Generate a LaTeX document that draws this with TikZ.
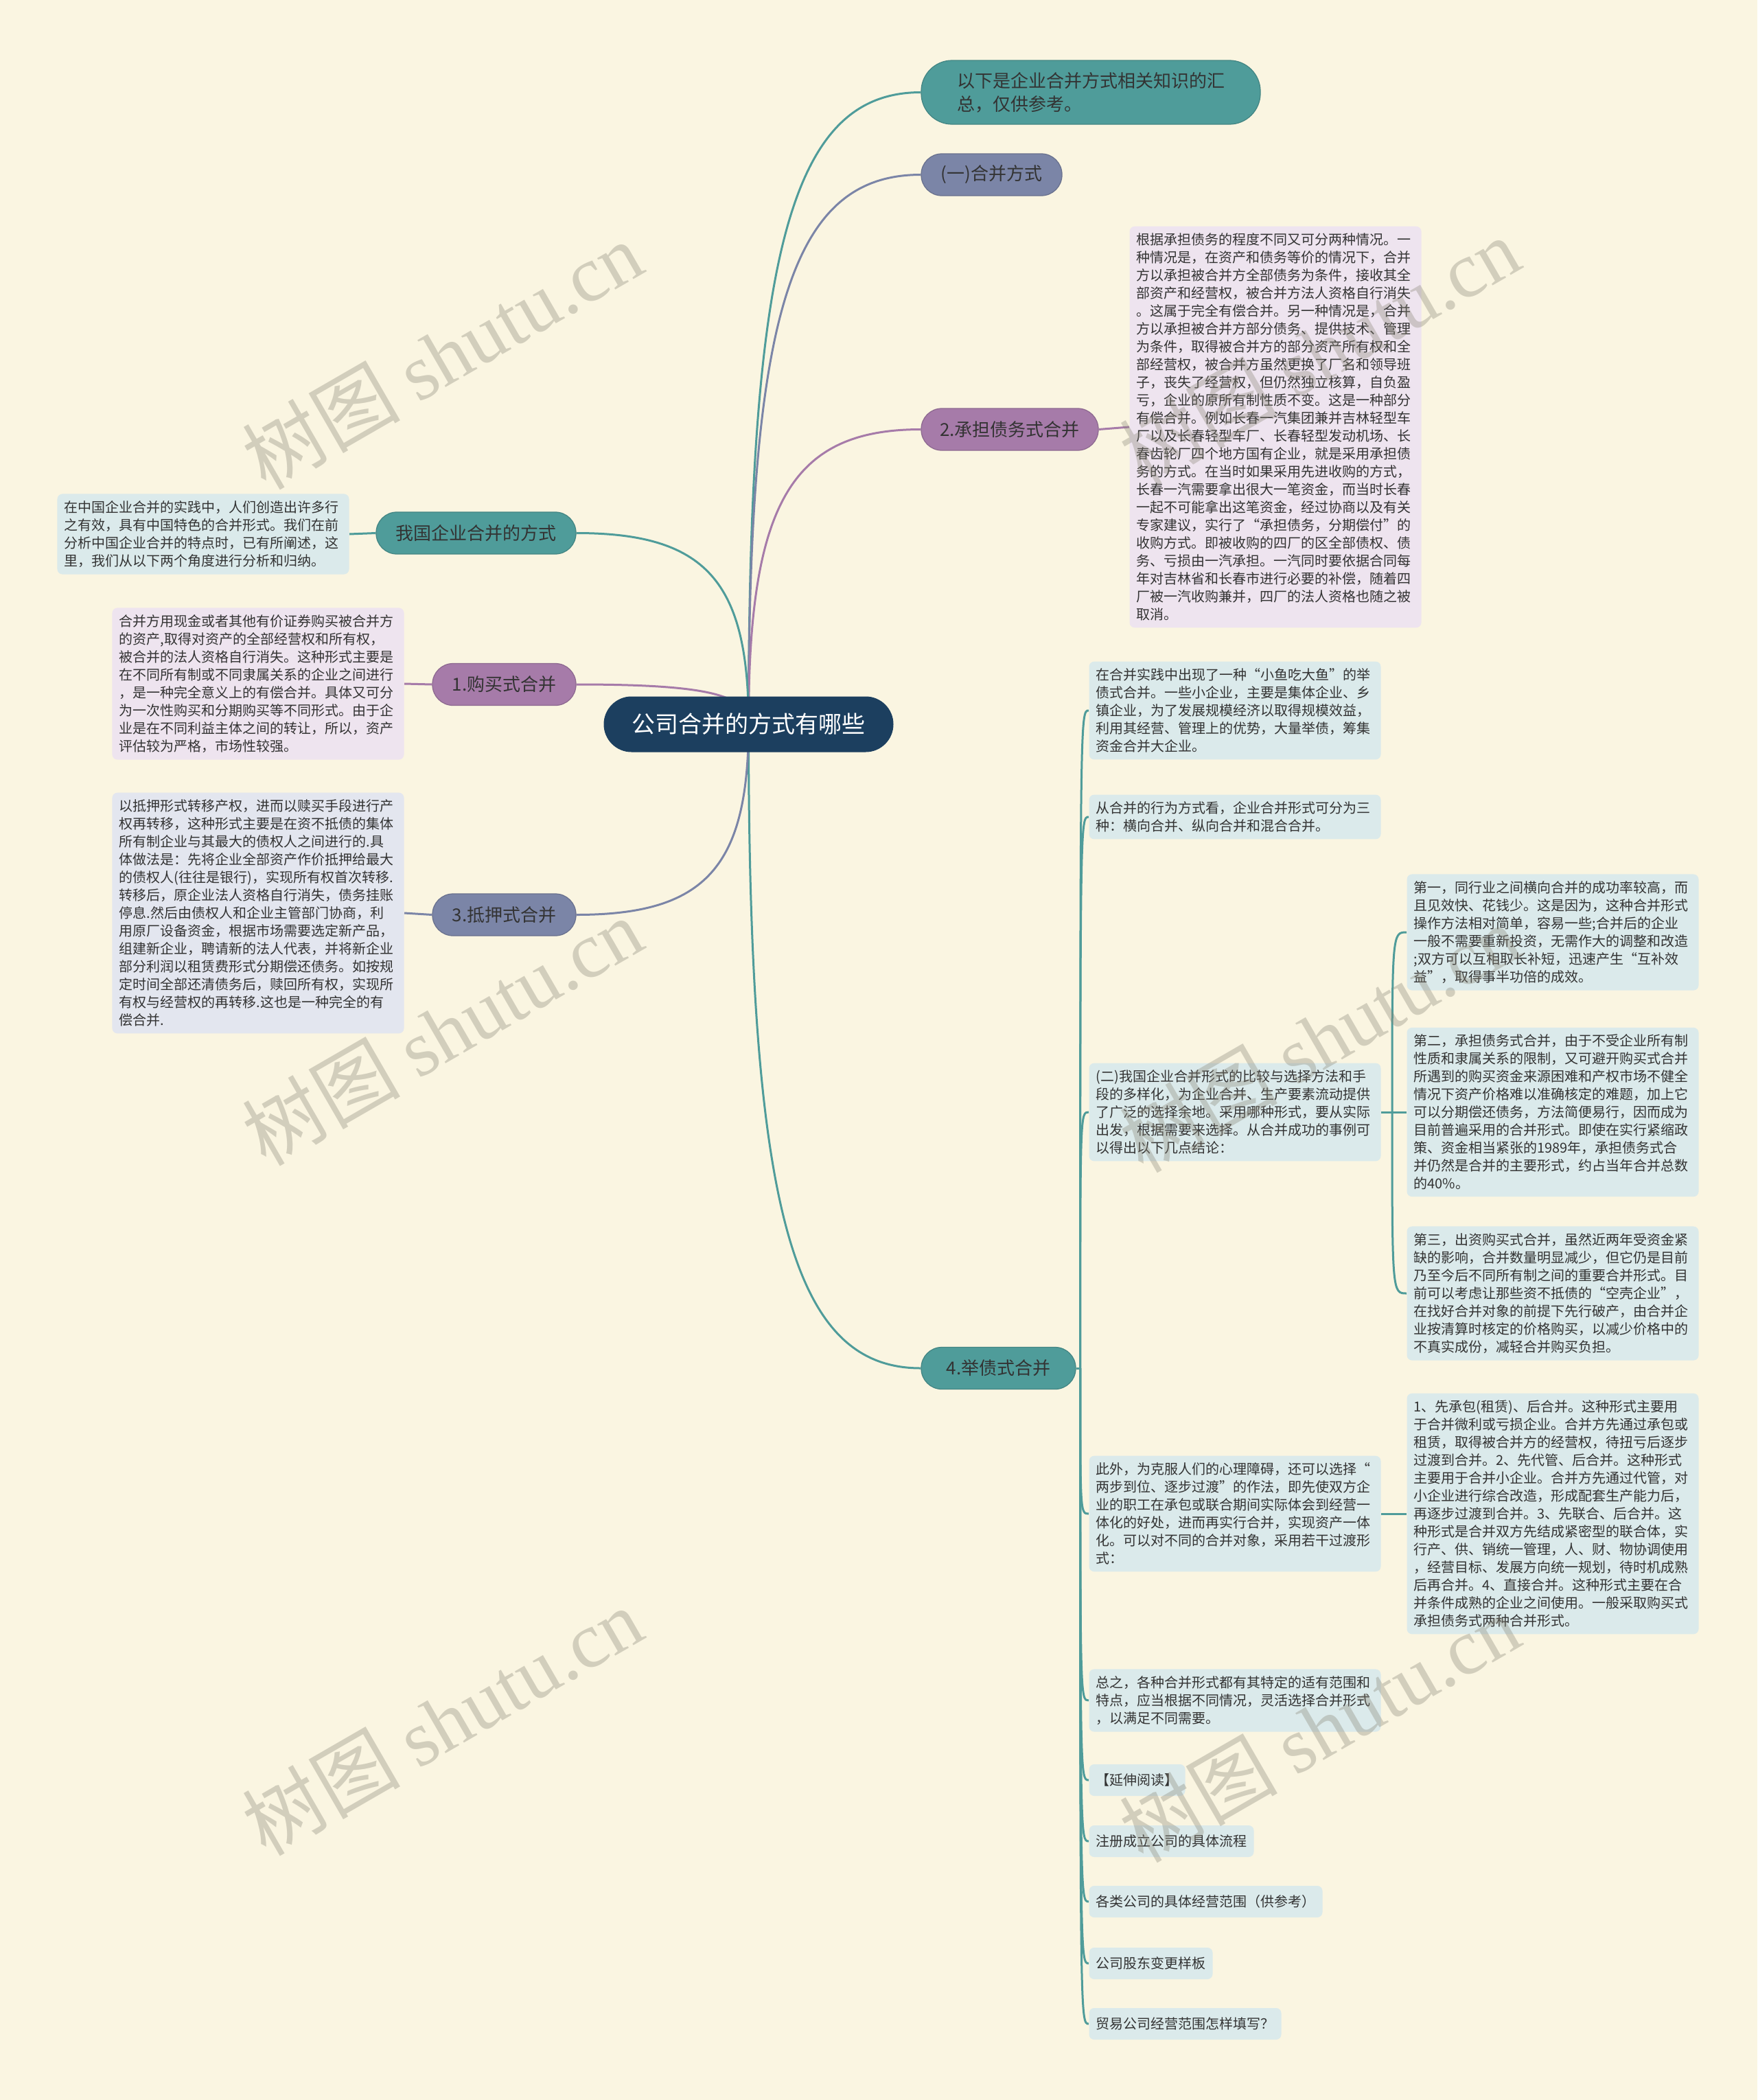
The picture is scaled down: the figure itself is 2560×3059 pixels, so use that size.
\documentclass[tikz,border=0pt]{standalone}
\usepackage{fontspec}
\setmainfont{Noto Sans CJK SC}
\newfontfamily\wmserif{Liberation Serif}
\usetikzlibrary{calc}
\definecolor{bgc}{HTML}{FAF5E1}
\definecolor{cteal}{HTML}{4F9C9A}
\definecolor{cslate}{HTML}{7B85A7}
\definecolor{cpurp}{HTML}{A67BA9}
\definecolor{cnavy}{HTML}{1C3F5F}
\definecolor{txtc}{HTML}{333333}
\definecolor{boxpurp}{HTML}{EEE4EF}
\definecolor{boxteal}{HTML}{DBEAEB}
\definecolor{boxslate}{HTML}{E3E6EF}
\definecolor{wmc}{HTML}{8A8677}
\pgfdeclarelayer{back}\pgfdeclarelayer{lines}\pgfdeclarelayer{front}
\pgfsetlayers{back,lines,main,front}
\tikzset{
 pill/.style={rounded corners=12pt, inner sep=0pt, align=center, text=txtc, minimum height=24.4pt, font=\fontsize{10.4}{13.5}\selectfont},
 box/.style={rounded corners=3pt, inner xsep=4pt, inner ysep=4pt, text width=162pt, align=left, text=txtc, font=\fontsize{8}{10.4}\selectfont},
 leaf/.style={rounded corners=3pt, inner xsep=4pt, inner ysep=4pt, minimum height=18.4pt, text=txtc, fill=boxteal, anchor=west, font=\fontsize{8}{10.4}\selectfont},
 conn/.style={line width=1.2pt},
 wm/.style={rotate=30, text=wmc, opacity=0.35, font=\fontsize{46}{50}\selectfont},
}
\newcommand\rootlink[2]{\draw[conn,#1] (root.center) .. controls ($(root.center)!0.75!(root.center |- #2)$) and ($(root.center |- #2)!0.25!(#2)$) .. (#2);}
\newcommand\hooklink[2]{\draw[conn,cteal] (#1) .. controls (#1 |- #2) .. (#2);}
\begin{document}
\begin{tikzpicture}[x=0.4pt,y=-0.4pt]
\begin{pgfonlayer}{back}
\fill[bgc] (0,0) rectangle (2560,3059);
\end{pgfonlayer}
\useasboundingbox (0,0) rectangle (2560,3059);

% root
\node[pill, fill=cnavy, draw=cnavy, text=white, minimum width=168.4pt, minimum height=32pt, rounded corners=16pt, font=\fontsize{13.6}{16}\selectfont] (root) at (1090.5,1055) {公司合并的方式有哪些};

% right first level
\node[pill, fill=cteal, draw=cteal!85!black, line width=0.5pt, minimum width=197.6pt, minimum height=37.2pt, rounded corners=18pt, text width=156pt, align=left] (n1) at (1589,134.5) {以下是企业合并方式相关知识的汇\\总，仅供参考。};
\node[pill, fill=cslate, draw=cslate!85!black, line width=0.5pt, minimum width=82pt] (n2) at (1444.5,254.5) {(一)合并方式};
\node[pill, fill=cpurp, draw=cpurp!85!black, line width=0.5pt, minimum width=103.2pt] (n3) at (1471,625.5) {2.承担债务式合并};
\node[pill, fill=cteal, draw=cteal!85!black, line width=0.5pt, minimum width=90pt] (n4) at (1454.5,1993) {4.举债式合并};

% left first level
\node[pill, fill=cteal, draw=cteal!85!black, line width=0.5pt, minimum width=116.4pt] (l1) at (693.5,776.5) {我国企业合并的方式};
\node[pill, fill=cpurp, draw=cpurp!85!black, line width=0.5pt, minimum width=83.6pt] (l2) at (734.5,997) {1.购买式合并};
\node[pill, fill=cslate, draw=cslate!85!black, line width=0.5pt, minimum width=83.6pt] (l3) at (734.5,1332.5) {3.抵押式合并};

% text boxes
\node[box, fill=boxpurp, anchor=west] (n3t) at (1645,622) {根据承担债务的程度不同又可分两种情况。一\\种情况是，在资产和债务等价的情况下，合并\\方以承担被合并方全部债务为条件，接收其全\\部资产和经营权，被合并方法人资格自行消失\\。这属于完全有偿合并。另一种情况是，合并\\方以承担被合并方部分债务、提供技术、管理\\为条件，取得被合并方的部分资产所有权和全\\部经营权，被合并方虽然更换了厂名和领导班\\子，丧失了经营权，但仍然独立核算，自负盈\\亏，企业的原所有制性质不变。这是一种部分\\有偿合并。例如长春一汽集团兼并吉林轻型车\\厂以及长春轻型车厂、长春轻型发动机场、长\\春齿轮厂四个地方国有企业，就是采用承担债\\务的方式。在当时如果采用先进收购的方式，\\长春一汽需要拿出很大一笔资金，而当时长春\\一起不可能拿出这笔资金，经过协商以及有关\\专家建议，实行了“承担债务，分期偿付”的\\收购方式。即被收购的四厂的区全部债权、债\\务、亏损由一汽承担。一汽同时要依据合同每\\年对吉林省和长春市进行必要的补偿，随着四\\厂被一汽收购兼并，四厂的法人资格也随之被\\取消。};

\node[box, fill=boxteal, anchor=east] (l1t) at (509,778) {在中国企业合并的实践中，人们创造出许多行\\之有效，具有中国特色的合并形式。我们在前\\分析中国企业合并的特点时，已有所阐述，这\\里，我们从以下两个角度进行分析和归纳。};

\node[box, fill=boxpurp, anchor=east] (l2t) at (589,996) {合并方用现金或者其他有价证券购买被合并方\\的资产,取得对资产的全部经营权和所有权，\\被合并的法人资格自行消失。这种形式主要是\\在不同所有制或不同隶属关系的企业之间进行\\，是一种完全意义上的有偿合并。具体又可分\\为一次性购买和分期购买等不同形式。由于企\\业是在不同利益主体之间的转让，所以，资产\\评估较为严格，市场性较强。};

\node[box, fill=boxslate, anchor=east] (l3t) at (589,1330) {以抵押形式转移产权，进而以赎买手段进行产\\权再转移，这种形式主要是在资不抵债的集体\\所有制企业与其最大的债权人之间进行的.具\\体做法是：先将企业全部资产作价抵押给最大\\的债权人(往往是银行)，实现所有权首次转移.\\转移后，原企业法人资格自行消失，债务挂账\\停息.然后由债权人和企业主管部门协商，利\\用原厂设备资金，根据市场需要选定新产品，\\组建新企业，聘请新的法人代表，并将新企业\\部分利润以租赁费形式分期偿还债务。如按规\\定时间全部还清债务后，赎回所有权，实现所\\有权与经营权的再转移.这也是一种完全的有\\偿合并.};

% children of 4
\node[box, fill=boxteal, anchor=west] (ca) at (1586,1035) {在合并实践中出现了一种“小鱼吃大鱼”的举\\债式合并。一些小企业，主要是集体企业、乡\\镇企业，为了发展规模经济以取得规模效益，\\利用其经营、管理上的优势，大量举债，筹集\\资金合并大企业。};
\node[box, fill=boxteal, anchor=west] (cb) at (1586,1190) {从合并的行为方式看，企业合并形式可分为三\\种：横向合并、纵向合并和混合合并。};
\node[box, fill=boxteal, anchor=west] (cc) at (1586,1620) {(二)我国企业合并形式的比较与选择方法和手\\段的多样化，为企业合并、生产要素流动提供\\了广泛的选择余地。采用哪种形式，要从实际\\出发，根据需要来选择。从合并成功的事例可\\以得出以下几点结论：};
\node[box, fill=boxteal, anchor=west] (cc1) at (2049,1358) {第一，同行业之间横向合并的成功率较高，而\\且见效快、花钱少。这是因为，这种合并形式\\操作方法相对简单，容易一些;合并后的企业\\一般不需要重新投资，无需作大的调整和改造\\;双方可以互相取长补短，迅速产生“互补效\\益”，取得事半功倍的成效。};
\node[box, fill=boxteal, anchor=west] (cc2) at (2049,1620) {第二，承担债务式合并，由于不受企业所有制\\性质和隶属关系的限制，又可避开购买式合并\\所遇到的购买资金来源困难和产权市场不健全\\情况下资产价格难以准确核定的难题，加上它\\可以分期偿还债务，方法简便易行，因而成为\\目前普遍采用的合并形式。即使在实行紧缩政\\策、资金相当紧张的1989年，承担债务式合\\并仍然是合并的主要形式，约占当年合并总数\\的40\%。};
\node[box, fill=boxteal, anchor=west] (cc3) at (2049,1884) {第三，出资购买式合并，虽然近两年受资金紧\\缺的影响，合并数量明显减少，但它仍是目前\\乃至今后不同所有制之间的重要合并形式。目\\前可以考虑让那些资不抵债的“空壳企业”，\\在找好合并对象的前提下先行破产，由合并企\\业按清算时核定的价格购买，以减少价格中的\\不真实成份，减轻合并购买负担。};
\node[box, fill=boxteal, anchor=west] (cd) at (1586,2205) {此外，为克服人们的心理障碍，还可以选择“\\两步到位、逐步过渡”的作法，即先使双方企\\业的职工在承包或联合期间实际体会到经营一\\体化的好处，进而再实行合并，实现资产一体\\化。可以对不同的合并对象，采用若干过渡形\\式：};
\node[box, fill=boxteal, anchor=west] (cd1) at (2049,2205) {1、先承包(租赁)、后合并。这种形式主要用\\于合并微利或亏损企业。合并方先通过承包或\\租赁，取得被合并方的经营权，待扭亏后逐步\\过渡到合并。2、先代管、后合并。这种形式\\主要用于合并小企业。合并方先通过代管，对\\小企业进行综合改造，形成配套生产能力后，\\再逐步过渡到合并。3、先联合、后合并。这\\种形式是合并双方先结成紧密型的联合体，实\\行产、供、销统一管理，人、财、物协调使用\\，经营目标、发展方向统一规划，待时机成熟\\后再合并。4、直接合并。这种形式主要在合\\并条件成熟的企业之间使用。一般采取购买式\\承担债务式两种合并形式。};
\node[box, fill=boxteal, anchor=west] (ce) at (1586,2477) {总之，各种合并形式都有其特定的适有范围和\\特点，应当根据不同情况，灵活选择合并形式\\，以满足不同需要。};
\node[leaf] (cf) at (1586,2593) {【延伸阅读】};
\node[leaf] (cg) at (1586,2682) {注册成立公司的具体流程};
\node[leaf] (ch) at (1586,2770) {各类公司的具体经营范围（供参考）};
\node[leaf] (ci) at (1586,2860) {公司股东变更样板};
\node[leaf] (cj) at (1586,2948) {贸易公司经营范围怎样填写？};

% connectors
\begin{pgfonlayer}{lines}
\rootlink{cteal}{n1.west}
\rootlink{cslate}{n2.west}
\rootlink{cpurp}{n3.west}
\rootlink{cteal}{n4.west}
\rootlink{cteal}{l1.east}
\rootlink{cpurp}{l2.east}
\rootlink{cslate}{l3.east}
\draw[conn,cpurp] (n3.east) -- (n3t.west);
\draw[conn,cteal] (l1.west) -- (l1t.east);
\draw[conn,cpurp] (l2.west) -- (l2t.east);
\draw[conn,cslate] (l3.west) -- (l3t.east);
\coordinate (n4j) at ($(n4.east)+(6,0)$);
\draw[conn,cteal] (n4.east) -- (n4j);
\foreach \nm in {ca,cb,cc,cd,ce,cf,cg,ch,ci,cj}
  \hooklink{n4j}{\nm.west}
\coordinate (ccj) at ($(cc.east)+(16,0)$);
\draw[conn,cteal] (cc.east) -- (cc2.west);
\hooklink{ccj}{cc1.west}
\hooklink{ccj}{cc3.west}
\draw[conn,cteal] (cd.east) -- (cd1.west);
\end{pgfonlayer}

% watermark
\begin{pgfonlayer}{front}
\foreach \wx/\wy [count=\k] in {644/517,644/1502,644/2507,1922/511,1922/1512,1922/2517}
  \node[wm] (wm\k) at (\wx,\wy) {树图 {\wmserif shutu.cn}};
\end{pgfonlayer}
\end{tikzpicture}
\end{document}
